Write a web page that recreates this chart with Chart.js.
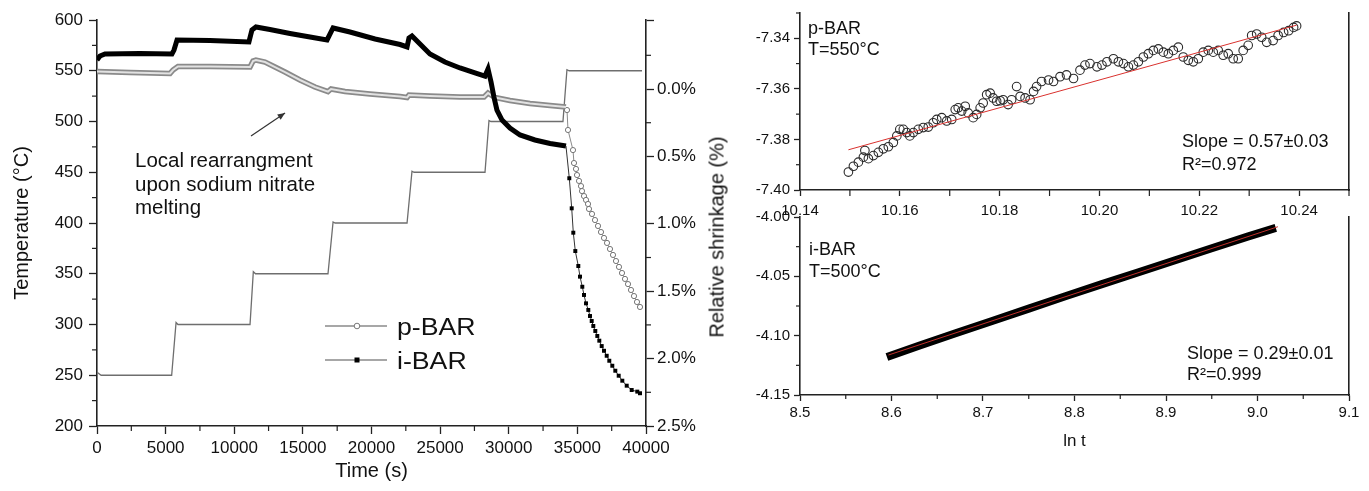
<!DOCTYPE html>
<html>
<head>
<meta charset="utf-8">
<script src="https://cdn.jsdelivr.net/npm/chart.js@4.4.0/dist/chart.umd.min.js"></script>
<style>
  body { margin: 0; background: #fff; width: 1369px; height: 491px; overflow: hidden; position: relative; }
  canvas { position: absolute; }
  #c1 { left: 0; top: 0; }
  #c2 { left: 700px; top: 0; }
  #c3 { left: 700px; top: 195px; }
  #tituloContraccion {
    position: absolute; left: 717px; top: 237px;
    transform: translate(-50%, -50%) rotate(-90deg);
    font: 20px "Liberation Sans", Arial, sans-serif; color: #111; white-space: nowrap;
  }
</style>
</head>
<body>
<canvas id="c1" width="700" height="491"></canvas>
<canvas id="c2" width="669" height="230"></canvas>
<canvas id="c3" width="669" height="296"></canvas>
<div id="tituloContraccion">Relative shrinkage (%)</div>

<script>
// ---- Datos del gráfico izquierdo (tiempo en s) ----
const tempTime = [0, 300, 5440, 5760, 5900, 11150, 11390, 11550, 16830, 17200, 17350, 22590, 22950, 23100, 28270, 28560, 28700, 33950, 34240, 34400, 39710];
const tempValue = [253, 250, 250, 302, 300, 300, 352, 350, 350, 401, 400, 400, 451, 450, 450, 501, 500, 500, 551, 550, 550];

const pBarTime = [0, 2400, 5320, 5540, 5900, 8230, 11150, 11370, 11580, 12240, 12970, 13700, 14790, 15880, 16830, 17050, 18070, 19890, 22080, 22590, 22730, 24260, 26450, 28200, 28490, 29000, 30090, 31550, 33010, 34170, 34244, 34317, 34681, 34754, 34900, 34973, 35119, 35264, 35337, 35483, 35629, 35775, 35847, 36066, 36284, 36503, 36721, 36940, 37159, 37377, 37596, 37814, 38033, 38252, 38470, 38689, 38907, 39126, 39344, 39563];
const pBarShrink = [-0.130, -0.122, -0.115, -0.141, -0.167, -0.167, -0.163, -0.208, -0.215, -0.200, -0.163, -0.126, -0.067, -0.015, 0.019, 0.000, 0.019, 0.037, 0.056, 0.063, 0.045, 0.052, 0.059, 0.059, 0.030, 0.063, 0.085, 0.108, 0.122, 0.134, 0.156, 0.304, 0.453, 0.549, 0.593, 0.638, 0.682, 0.720, 0.757, 0.794, 0.823, 0.853, 0.890, 0.927, 0.972, 1.016, 1.061, 1.105, 1.142, 1.187, 1.231, 1.276, 1.320, 1.365, 1.409, 1.447, 1.491, 1.536, 1.580, 1.617];

const iBarTime = [0, 220, 580, 3130, 5460, 5610, 5830, 8230, 11070, 11290, 11580, 12600, 14060, 15520, 16760, 16900, 17200, 18430, 20260, 22080, 22590, 22730, 22950, 24260, 25350, 26450, 27540, 28270, 28490, 28710, 28920, 29140, 29510, 30090, 30820, 31910, 33010, 34170, 34412, 34587, 34703, 34849, 35068, 35191, 35359, 35483, 35629, 35797, 35920, 36044, 36161, 36306, 36452, 36598, 36772, 36940, 37137, 37326, 37545, 37764, 38011, 38274, 38594, 38958, 39366, 39563];
const iBarShrink = [-0.215, -0.245, -0.260, -0.263, -0.260, -0.289, -0.364, -0.360, -0.349, -0.438, -0.460, -0.441, -0.412, -0.386, -0.364, -0.393, -0.453, -0.423, -0.371, -0.330, -0.312, -0.378, -0.393, -0.260, -0.200, -0.156, -0.119, -0.096, -0.148, -0.052, 0.059, 0.156, 0.230, 0.289, 0.341, 0.378, 0.404, 0.423, 0.662, 0.885, 1.066, 1.202, 1.313, 1.392, 1.467, 1.528, 1.590, 1.639, 1.684, 1.721, 1.758, 1.795, 1.832, 1.867, 1.907, 1.942, 1.979, 2.016, 2.053, 2.090, 2.127, 2.164, 2.201, 2.233, 2.245, 2.257];

// ---- Datos de los gráficos derechos (ln t) ----
const pBarLnT = [10.1497, 10.1507, 10.1517, 10.1527, 10.1530, 10.1537, 10.1547, 10.1557, 10.1567, 10.1577, 10.1587, 10.1594, 10.1600, 10.1607, 10.1614, 10.1620, 10.1627, 10.1637, 10.1647, 10.1657, 10.1667, 10.1674, 10.1684, 10.1694, 10.1704, 10.1711, 10.1717, 10.1724, 10.1731, 10.1737, 10.1747, 10.1754, 10.1761, 10.1767, 10.1774, 10.1781, 10.1787, 10.1794, 10.1801, 10.1807, 10.1817, 10.1824, 10.1834, 10.1841, 10.1851, 10.1861, 10.1868, 10.1874, 10.1884, 10.1898, 10.1908, 10.1921, 10.1934, 10.1948, 10.1961, 10.1971, 10.1981, 10.1995, 10.2005, 10.2015, 10.2028, 10.2038, 10.2048, 10.2058, 10.2068, 10.2078, 10.2088, 10.2098, 10.2108, 10.2118, 10.2128, 10.2138, 10.2148, 10.2158, 10.2168, 10.2178, 10.2188, 10.2198, 10.2208, 10.2218, 10.2228, 10.2238, 10.2248, 10.2258, 10.2268, 10.2278, 10.2288, 10.2298, 10.2305, 10.2315, 10.2325, 10.2335, 10.2348, 10.2358, 10.2369, 10.2379, 10.2389, 10.2395];
const pBarContr = [-7.3929, -7.3906, -7.3890, -7.3870, -7.3844, -7.3876, -7.3864, -7.3851, -7.3837, -7.3829, -7.3812, -7.3786, -7.3760, -7.3760, -7.3773, -7.3786, -7.3773, -7.3760, -7.3753, -7.3751, -7.3734, -7.3721, -7.3714, -7.3727, -7.3721, -7.3682, -7.3675, -7.3688, -7.3669, -7.3695, -7.3714, -7.3701, -7.3675, -7.3656, -7.3623, -7.3617, -7.3636, -7.3649, -7.3647, -7.3643, -7.3662, -7.3643, -7.3591, -7.3630, -7.3636, -7.3643, -7.3610, -7.3591, -7.3571, -7.3565, -7.3571, -7.3552, -7.3545, -7.3559, -7.3526, -7.3506, -7.3500, -7.3513, -7.3506, -7.3493, -7.3481, -7.3493, -7.3500, -7.3513, -7.3506, -7.3493, -7.3474, -7.3461, -7.3448, -7.3442, -7.3455, -7.3461, -7.3448, -7.3435, -7.3474, -7.3487, -7.3493, -7.3481, -7.3455, -7.3448, -7.3455, -7.3448, -7.3467, -7.3461, -7.3481, -7.3481, -7.3448, -7.3428, -7.3389, -7.3383, -7.3396, -7.3416, -7.3409, -7.3389, -7.3377, -7.3370, -7.3357, -7.3351];
const pFitLnT = [10.1497, 10.2395];
const pFitContr = [-7.3841, -7.3348];

const iBarLnT = [8.595, 8.630, 8.670, 8.710, 8.750, 8.790, 8.830, 8.870, 8.910, 8.950, 8.990, 9.020];
const iBarContr = [-4.1180, -4.1085, -4.0980, -4.0876, -4.0772, -4.0668, -4.0566, -4.0465, -4.0364, -4.0263, -4.0163, -4.0092];
const iFitLnT = [8.5967, 9.0223];
const iFitContr = [-4.1163, -4.0082];

// Desde este tiempo los marcadores ya no se tapan entre sí
const corte = 34200;

const fuente = '"Liberation Sans", Arial, sans-serif';
Chart.defaults.font.family = fuente;
Chart.defaults.color = '#111';
Chart.defaults.animation = false;

function pares(xs, ys) {
  return xs.map(function (x, i) { return { x: x, y: ys[i] }; });
}

// Chart.js no tiene marcas menores, las dibujo aparte
const marcasMenores = {
  id: 'marcasMenores',
  afterDraw(chart, args, opts) {
    const ctx = chart.ctx;
    ctx.save();
    ctx.strokeStyle = '#222';
    ctx.lineWidth = 1.2;
    Object.keys(opts.ejes || {}).forEach(function (id) {
      const s = chart.scales[id];
      const c = opts.ejes[id];
      const n0 = Math.ceil(s.min / c.paso - 1e-6);
      const n1 = Math.floor(s.max / c.paso + 1e-6);
      for (let n = n0; n <= n1; n++) {
        if (n % c.cada === 0) continue;
        const p = s.getPixelForValue(n * c.paso);
        ctx.beginPath();
        if (s.position === 'left') { ctx.moveTo(s.right, p); ctx.lineTo(s.right - c.largo, p); }
        else if (s.position === 'right') { ctx.moveTo(s.left, p); ctx.lineTo(s.left + c.largo, p); }
        else { ctx.moveTo(p, s.top); ctx.lineTo(p, s.top + c.largo); }
        ctx.stroke();
      }
    });
    ctx.restore();
  }
};

// Textos sueltos dentro de los gráficos
const textos = {
  id: 'textos',
  afterDraw(chart, args, opts) {
    const ctx = chart.ctx;
    (opts.items || []).forEach(function (t) {
      ctx.save();
      ctx.font = t.size + 'px ' + fuente;
      ctx.fillStyle = '#111';
      ctx.textBaseline = 'alphabetic';
      ctx.translate(t.x, t.y);
      ctx.scale(t.sx || 1, 1);
      ctx.fillText(t.text, 0, 0);
      ctx.restore();
    });
  }
};

// Flecha y leyenda del gráfico izquierdo
const extrasIzq = {
  id: 'extrasIzq',
  afterDraw(chart) {
    const ctx = chart.ctx;
    const sx = chart.scales.x, sy = chart.scales.y;
    const x0 = sx.getPixelForValue(11220), y0 = sy.getPixelForValue(485.7);
    const x1 = sx.getPixelForValue(13700), y1 = sy.getPixelForValue(508.4);
    const ang = Math.atan2(y1 - y0, x1 - x0);
    ctx.save();
    ctx.strokeStyle = '#333';
    ctx.fillStyle = '#333';
    ctx.lineWidth = 1.2;
    ctx.beginPath();
    ctx.moveTo(x0, y0);
    ctx.lineTo(x1, y1);
    ctx.stroke();
    ctx.beginPath();
    ctx.moveTo(x1, y1);
    ctx.lineTo(x1 - 8 * Math.cos(ang - 0.4), y1 - 8 * Math.sin(ang - 0.4));
    ctx.lineTo(x1 - 8 * Math.cos(ang + 0.4), y1 - 8 * Math.sin(ang + 0.4));
    ctx.closePath();
    ctx.fill();

    // leyenda
    const filas = [
      { texto: 'p-BAR', y: 326, marca: 'circulo' },
      { texto: 'i-BAR', y: 360, marca: 'cuadro' }
    ];
    filas.forEach(function (f) {
      ctx.strokeStyle = '#8a8a8a';
      ctx.lineWidth = 1.3;
      ctx.beginPath();
      ctx.moveTo(325, f.y);
      ctx.lineTo(387, f.y);
      ctx.stroke();
      if (f.marca === 'circulo') {
        ctx.beginPath();
        ctx.arc(357, f.y, 2.8, 0, Math.PI * 2);
        ctx.fillStyle = '#fff';
        ctx.fill();
        ctx.strokeStyle = '#777';
        ctx.lineWidth = 1;
        ctx.stroke();
      } else {
        ctx.fillStyle = '#000';
        ctx.fillRect(354.5, f.y - 2.5, 5, 5);
      }
      ctx.save();
      ctx.font = '23px ' + fuente;
      ctx.fillStyle = '#111';
      ctx.translate(397, f.y + 8.5);
      ctx.scale(1.16, 1);
      ctx.fillText(f.texto, 0, 0);
      ctx.restore();
    });
    ctx.restore();
  }
};

function ejeBase(extra) {
  return Object.assign({
    type: 'linear',
    grid: { drawOnChartArea: false, tickColor: '#222', tickWidth: 1.3, tickLength: 8 },
    border: { color: '#222', width: 1.6 }
  }, extra);
}

// ---------- Gráfico izquierdo ----------
new Chart(document.getElementById('c1'), {
  type: 'line',
  data: {
    datasets: [
      {
        label: 'i-BAR',
        data: pares(iBarTime, iBarShrink),
        yAxisID: 'y2',
        borderColor: '#000',
        borderWidth: 5,
        segment: {
          borderWidth: function (c) { return c.p1.parsed.x > corte ? 1 : 5; },
          borderColor: function (c) { return c.p1.parsed.x > corte ? '#333' : '#000'; }
        },
        pointStyle: 'rect',
        pointRadius: function (c) { return c.raw && c.raw.x > corte ? 2.8 : 0; },
        pointBackgroundColor: '#000',
        pointBorderColor: '#000',
        pointBorderWidth: 0
      },
      {
        label: 'p-BAR interior',
        data: pares(pBarTime, pBarShrink),
        yAxisID: 'y2',
        borderWidth: 2,
        segment: {
          borderColor: function (c) { return c.p1.parsed.x > corte ? 'rgba(0,0,0,0)' : '#e2e2e2'; }
        },
        pointRadius: 0
      },
      {
        label: 'p-BAR',
        data: pares(pBarTime, pBarShrink),
        yAxisID: 'y2',
        borderColor: '#8a8a8a',
        borderWidth: 5.5,
        segment: {
          borderWidth: function (c) { return c.p1.parsed.x > corte ? 1 : 5.5; }
        },
        pointStyle: 'circle',
        pointRadius: function (c) { return c.raw && c.raw.x > corte ? 2.6 : 0; },
        pointBackgroundColor: '#fff',
        pointBorderColor: '#777',
        pointBorderWidth: 1
      },
      {
        label: 'Temperatura',
        data: pares(tempTime, tempValue),
        yAxisID: 'y',
        borderColor: '#6e6e6e',
        borderWidth: 1.3,
        pointRadius: 0
      }
    ]
  },
  options: {
    responsive: false,
    layout: { padding: { top: 20, left: 0, right: 0, bottom: 0 } },
    plugins: {
      legend: { display: false },
      tooltip: { enabled: false },
      marcasMenores: {
        ejes: {
          x: { paso: 2500, cada: 2, largo: 5 },
          y: { paso: 25, cada: 2, largo: 5 },
          y2: { paso: 0.25, cada: 2, largo: 5 }
        }
      },
      textos: {
        items: [
          { text: 'Local rearrangment', x: 135, y: 166.5, size: 20.5 },
          { text: 'upon sodium nitrate', x: 135, y: 190.5, size: 20.5 },
          { text: 'melting', x: 135, y: 214, size: 20.5 }
        ]
      }
    },
    scales: {
      x: ejeBase({
        position: 'bottom', min: 0, max: 40000,
        ticks: { stepSize: 5000, autoSkip: false, maxRotation: 0, padding: 4, font: { size: 17 }, callback: function (v) { return String(v); } },
        title: { display: true, text: 'Time (s)', font: { size: 20 }, padding: { top: 0, bottom: 8 } },
        afterFit: function (s) { s.height = 65; }
      }),
      y: ejeBase({
        position: 'left', min: 200, max: 600,
        ticks: { stepSize: 50, padding: 6, font: { size: 17 }, callback: function (v) { return String(v); } },
        title: { display: true, text: 'Temperature (°C)', font: { size: 20 }, padding: { top: 10, bottom: 0 } },
        afterFit: function (s) { s.width = 97; }
      }),
      y2: ejeBase({
        position: 'right', min: -0.512, max: 2.5, reverse: true,
        ticks: { stepSize: 0.5, padding: 3, font: { size: 17 }, callback: function (v) { return v < -0.01 ? '' : v.toFixed(1) + '%'; } },
        afterFit: function (s) { s.width = 54; }
      })
    }
  },
  plugins: [marcasMenores, textos, extrasIzq]
});

// ---------- Gráfico derecho superior (p-BAR) ----------
new Chart(document.getElementById('c2'), {
  type: 'line',
  data: {
    datasets: [
      {
        label: 'Ajuste',
        data: pares(pFitLnT, pFitContr),
        borderColor: '#d9312e',
        borderWidth: 1,
        pointRadius: 0
      },
      {
        label: 'p-BAR',
        data: pares(pBarLnT, pBarContr),
        showLine: false,
        pointStyle: 'circle',
        pointRadius: 4.3,
        pointBorderColor: '#2a2a2a',
        pointBorderWidth: 1.1,
        pointBackgroundColor: 'rgba(255,255,255,0)'
      }
    ]
  },
  options: {
    responsive: false,
    layout: { padding: { top: 10, left: 0, right: 0, bottom: 0 } },
    plugins: {
      legend: { display: false },
      tooltip: { enabled: false },
      marcasMenores: {
        ejes: {
          x: { paso: 0.01, cada: 2, largo: 6 },
          y: { paso: 0.01, cada: 2, largo: 4 }
        }
      },
      textos: {
        items: [
          { text: 'p-BAR', x: 108, y: 33.5, size: 18 },
          { text: 'T=550°C', x: 108, y: 54.5, size: 18 },
          { text: 'Slope = 0.57±0.03', x: 482, y: 146.5, size: 18 },
          { text: 'R²=0.972', x: 482, y: 169.5, size: 18 }
        ]
      }
    },
    scales: {
      x: ejeBase({
        position: 'bottom', min: 10.14, max: 10.25,
        grid: { drawOnChartArea: false, tickColor: '#222', tickWidth: 1.3, tickLength: 6 },
        ticks: { stepSize: 0.02, includeBounds: false, autoSkip: false, maxRotation: 0, padding: 6, font: { size: 15 }, callback: function (v) { return v.toFixed(2); } },
        afterFit: function (s) { s.height = 40; }
      }),
      y: ejeBase({
        position: 'left', min: -7.40, max: -7.33,
        grid: { drawOnChartArea: false, tickColor: '#222', tickWidth: 1.3, tickLength: 6 },
        ticks: { stepSize: 0.02, includeBounds: false, padding: 4, font: { size: 15 }, callback: function (v) { return v.toFixed(2); } },
        afterFit: function (s) { s.width = 100; }
      }),
      yR: ejeBase({
        position: 'right',
        grid: { display: false },
        ticks: { display: false },
        afterFit: function (s) { s.width = 20; }
      })
    }
  },
  plugins: [marcasMenores, textos]
});

// ---------- Gráfico derecho inferior (i-BAR) ----------
new Chart(document.getElementById('c3'), {
  type: 'line',
  data: {
    datasets: [
      {
        label: 'Ajuste',
        data: pares(iFitLnT, iFitContr),
        borderColor: '#c0302c',
        borderWidth: 1,
        pointRadius: 0
      },
      {
        label: 'i-BAR',
        data: pares(iBarLnT, iBarContr),
        borderColor: '#000',
        borderWidth: 8,
        borderCapStyle: 'butt',
        pointRadius: 0
      }
    ]
  },
  options: {
    responsive: false,
    layout: { padding: { top: 22, left: 0, right: 0, bottom: 0 } },
    plugins: {
      legend: { display: false },
      tooltip: { enabled: false },
      marcasMenores: {
        ejes: {
          x: { paso: 0.05, cada: 2, largo: 4 },
          y: { paso: 0.025, cada: 2, largo: 4 }
        }
      },
      textos: {
        items: [
          { text: 'i-BAR', x: 109, y: 59.5, size: 18 },
          { text: 'T=500°C', x: 109, y: 81.5, size: 18 },
          { text: 'Slope = 0.29±0.01', x: 487, y: 163.5, size: 18 },
          { text: 'R²=0.999', x: 487, y: 184.5, size: 18 }
        ]
      }
    },
    scales: {
      x: ejeBase({
        position: 'bottom', min: 8.5, max: 9.1,
        grid: { drawOnChartArea: false, tickColor: '#222', tickWidth: 1.3, tickLength: 6 },
        ticks: { stepSize: 0.1, autoSkip: false, maxRotation: 0, padding: 3, font: { size: 15 }, callback: function (v) { return v.toFixed(1); } },
        title: { display: true, text: 'ln t', font: { size: 17 }, padding: { top: 0, bottom: 39 } },
        afterFit: function (s) { s.height = 96; }
      }),
      y: ejeBase({
        position: 'left', min: -4.15, max: -4.00,
        grid: { drawOnChartArea: false, tickColor: '#222', tickWidth: 1.3, tickLength: 6 },
        ticks: { stepSize: 0.05, padding: 4, font: { size: 15 }, callback: function (v) { return v.toFixed(2); } },
        afterFit: function (s) { s.width = 100; }
      }),
      yR: ejeBase({
        position: 'right',
        grid: { display: false },
        ticks: { display: false },
        afterFit: function (s) { s.width = 20; }
      })
    }
  },
  plugins: [marcasMenores, textos]
});
</script>
</body>
</html>
